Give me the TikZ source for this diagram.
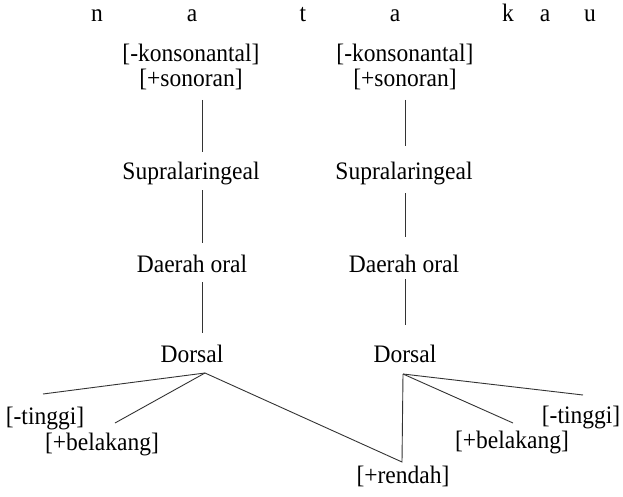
\documentclass[tikz,border=0pt]{standalone}
\usepackage{fontspec}
\setmainfont{Liberation Serif}
% slightly tall serif lettering
\newcommand\tall[1]{\scalebox{1}[1.07]{#1}}
\begin{document}
\begin{tikzpicture}[x=1pt,y=-1pt,
  lbl/.style={inner sep=0pt,anchor=base,font=\fontsize{23.5}{26}\selectfont},
  seg/.style={draw=black!80,line width=0.9pt}]
\useasboundingbox (0,0) rectangle (623,497);
% segment row
\node[lbl] (n1) at (97,22) {\tall{n}};
\node[lbl] (a1) at (192,22) {\tall{a}};
\node[lbl] (t1) at (303,22) {\tall{t}};
\node[lbl] (a2) at (395,22) {\tall{a}};
\node[lbl] (k1) at (508,22) {\tall{k}};
\node[lbl] (a3) at (545,22) {\tall{a}};
\node[lbl] (u1) at (590,22) {\tall{u}};
% left column
\node[lbl] (konL) at (191,62) {\tall{[-konsonantal]}};
\node[lbl] (sonL) at (191,87) {\tall{[+sonoran]}};
\node[lbl] (supL) at (191,179) {\tall{Supralaringeal}};
\node[lbl] (daeL) at (192,272) {\tall{Daerah oral}};
\node[lbl] (dorL) at (192,362) {\tall{Dorsal}};
% right column
\node[lbl] (konR) at (405,62) {\tall{[-konsonantal]}};
\node[lbl] (sonR) at (405,87) {\tall{[+sonoran]}};
\node[lbl] (supR) at (404,179) {\tall{Supralaringeal}};
\node[lbl] (daeR) at (404,272) {\tall{Daerah oral}};
\node[lbl] (dorR) at (405,362) {\tall{Dorsal}};
% features
\node[lbl] (tinL) at (45,424) {\tall{[-tinggi]}};
\node[lbl] (belL) at (102,450) {\tall{[+belakang]}};
\node[lbl] (ren) at (403,483) {\tall{[+rendah]}};
\node[lbl] (belR) at (512,448) {\tall{[+belakang]}};
\node[lbl] (tinR) at (581,423) {\tall{[-tinggi]}};
% attachment points
\coordinate (apL) at (205,373);
\coordinate (apR) at (403,374);
\coordinate (bot) at (402,462);
\coordinate (eTL) at (43,394);
\coordinate (eBL) at (115,423);
\coordinate (eBR) at (513,423);
\coordinate (eTR) at (583,395);
% vertical association lines
\draw[seg] (202,100) -- (202,152);
\draw[seg] (202,190) -- (202,243);
\draw[seg] (202,282) -- (202,333);
\draw[seg] (405,100) -- (405,146);
\draw[seg] (405,193) -- (405,237);
\draw[seg] (405,279) -- (405,325);
% dorsal branches
\draw[seg] (apL) -- (eTL);
\draw[seg] (apL) -- (eBL);
\draw[seg] (apL) -- (bot) -- (apR);
\draw[seg] (apR) -- (eBR);
\draw[seg] (apR) -- (eTR);
\end{tikzpicture}
\end{document}
